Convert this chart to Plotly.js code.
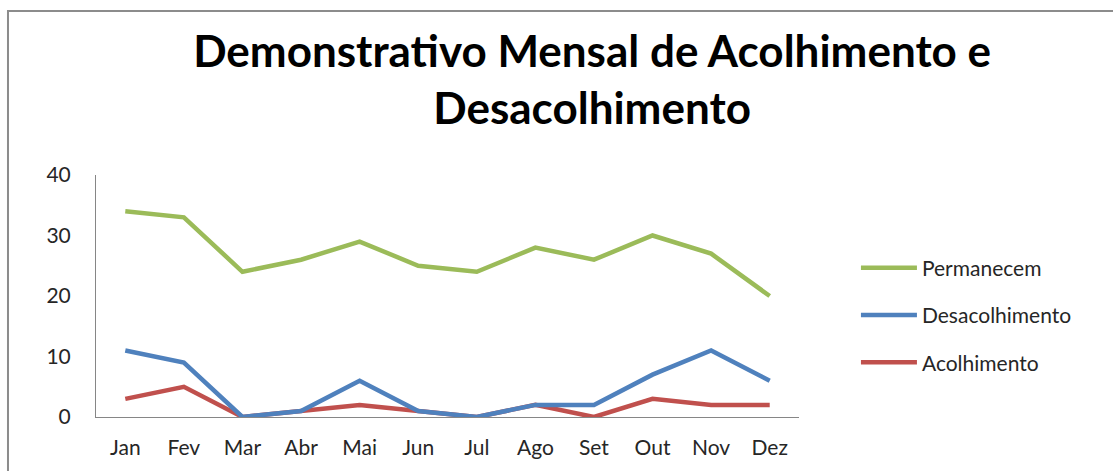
<!DOCTYPE html>
<html>
<head>
<meta charset="utf-8">
<script src="https://cdn.plot.ly/plotly-3.0.1.min.js"></script>
<style>
  body { margin: 0; background: #fff; }
  #chart { width: 1113px; height: 471px; }
</style>
</head>
<body>
<div id="chart"></div>
<script>
var meses = ['Jan', 'Fev', 'Mar', 'Abr', 'Mai', 'Jun', 'Jul', 'Ago', 'Set', 'Out', 'Nov', 'Dez'];
var permanecem = [34, 33, 24, 26, 29, 25, 24, 28, 26, 30, 27, 20];
var desacolhimento = [11, 9, 0, 1, 6, 1, 0, 2, 2, 7, 11, 6];
var acolhimento = [3, 5, 0, 1, 2, 1, 0, 2, 0, 3, 2, 2];

var font_main = 'Lato, "Open Sans", sans-serif';

function serie(nome, valores, cor, rank) {
    return {
	name: nome,
	type: 'scatter',
	mode: 'lines',
	x: meses,
	y: valores,
	legendgroup: nome,
	legendrank: rank,
	cliponaxis: false,
	line: { color: cor, width: 4.5 }
    };
}

// excel order: red first, green last (drawn on top)
var data = [
    serie('Acolhimento', acolhimento, '#C0504D', 3),
    serie('Desacolhimento', desacolhimento, '#4F81BD', 2),
    serie('Permanecem', permanecem, '#9BBB59', 1)
];

var layout = {
    width: 1113,
    height: 471,
    margin: { l: 96, r: 314, t: 175, b: 54 },
    paper_bgcolor: '#ffffff',
    plot_bgcolor: '#ffffff',
    font: { family: font_main, size: 21, color: '#262626' },
    title: {
	text: '<b>Demonstrativo Mensal de Acolhimento e<br>Desacolhimento</b>',
	font: { family: font_main, size: 44, color: '#000000' },
	xref: 'container', x: 0.532, xanchor: 'center',
	yref: 'container', y: 0.858, yanchor: 'top'
    },
    xaxis: {
	type: 'category',
	showgrid: false,
	showline: true,
	linecolor: '#868686',
	linewidth: 1,
	ticks: '',
	tickfont: { size: 21, color: '#262626' },
	ticklabelstandoff: 12,
	range: [-0.5, 11.5],
	fixedrange: true
    },
    yaxis: {
	range: [0, 40],
	dtick: 10,
	showgrid: false,
	zeroline: false,
	showline: true,
	linecolor: '#868686',
	linewidth: 1,
	ticks: '',
	tickfont: { size: 21, color: '#262626' },
	ticklabelstandoff: 20,
	fixedrange: true
    },
    showlegend: true,
    legend: {
	x: 1.081, xanchor: 'left',
	y: 0.70, yanchor: 'top',
	traceorder: 'grouped',
	tracegroupgap: 17,
	itemwidth: 56,
	font: { size: 21, color: '#262626' },
	bgcolor: 'rgba(0,0,0,0)'
    },
    shapes: [{
	type: 'rect', xref: 'paper', yref: 'paper',
	x0: -0.1252, x1: 1.6, y0: -0.5, y1: 1.678,
	line: { color: '#8c8c8c', width: 2 }
    }]
};

Plotly.newPlot('chart', data, layout, { staticPlot: true });
</script>
</body>
</html>
